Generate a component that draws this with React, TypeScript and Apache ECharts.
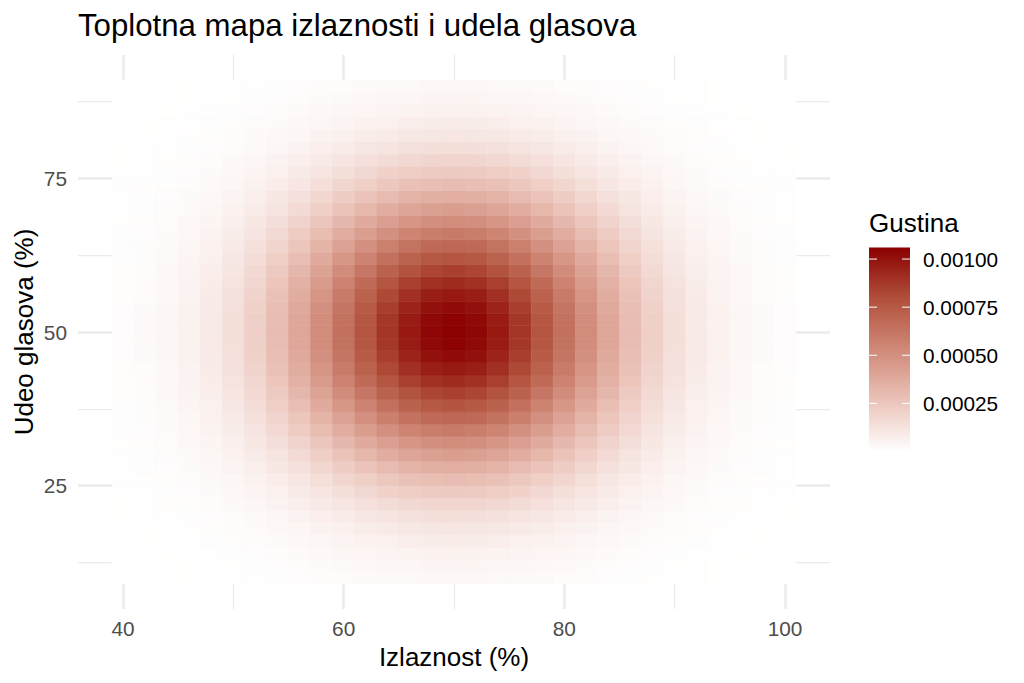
import React, { useEffect, useRef } from "react";
import * as echarts from "echarts";

const titleText = "Toplotna mapa izlaznosti i udela glasova";
const xName = "Izlaznost (%)";
const yName = "Udeo glasova (%)";
const legendName = "Gustina";
const xMajor = [40, 60, 80, 100];
const xMinor = [50, 70, 90];
const yMajor = [25, 50, 75];
const yMinor = [12.5, 37.5, 62.5, 87.5];
const xCells = [40,42,44,46,48,50,52,54,56,58,60,62,64,66,68,70,72,74,76,78,80,82,84,86,88,90,92,94,96,98,100];
const yCells = [10,12,14,16,18,20,22,24,26,28,30,32,34,36,38,40,42,44,46,48,50,52,54,56,58,60,62,64,66,68,70,72,74,76,78,80,82,84,86,88,90];
const legendTicks = [0.001, 0.00075, 0.0005, 0.00025];
const legendLabels = ["0.00100", "0.00075", "0.00050", "0.00025"];
const colorStops = ["#ffffff", "#EBC3B9", "#D08978", "#B1503B", "#8B0000"];
const densityMax = 0.00106;
const unit = 1e-5;
// rows run from y = 10 to y = 90, columns from x = 40 to x = 100; values in units of 0.00001
const density = [
[0,0.1,0.1,0.2,0.3,0.4,0.6,0.9,1.2,1.5,1.9,2.2,2.6,2.8,3,3.1,3,2.8,2.6,2.2,1.9,1.5,1.2,0.9,0.6,0.4,0.3,0.2,0.1,0.1,0],
[0,0.1,0.1,0.2,0.4,0.6,0.8,1.2,1.6,2.1,2.6,3.1,3.5,3.9,4.2,4.2,4.2,3.9,3.5,3.1,2.6,2.1,1.6,1.2,0.8,0.6,0.4,0.2,0.1,0.1,0],
[0.1,0.1,0.2,0.3,0.5,0.8,1.2,1.7,2.2,2.9,3.6,4.3,5,5.5,5.8,5.9,5.8,5.5,5,4.3,3.6,2.9,2.2,1.7,1.2,0.8,0.5,0.3,0.2,0.1,0.1],
[0.1,0.2,0.3,0.5,0.7,1.1,1.6,2.3,3.1,4,5,5.9,6.8,7.5,8,8.2,8,7.5,6.8,5.9,5,4,3.1,2.3,1.6,1.1,0.7,0.5,0.3,0.2,0.1],
[0.1,0.2,0.4,0.6,1,1.5,2.2,3,4.1,5.3,6.6,7.9,9.1,10.1,10.7,10.9,10.7,10.1,9.1,7.9,6.6,5.3,4.1,3,2.2,1.5,1,0.6,0.4,0.2,0.1],
[0.2,0.3,0.5,0.8,1.3,1.9,2.8,4,5.4,7,8.7,10.4,11.9,13.2,14,14.3,14,13.2,11.9,10.4,8.7,7,5.4,4,2.8,1.9,1.3,0.8,0.5,0.3,0.2],
[0.2,0.4,0.6,1,1.6,2.5,3.7,5.2,7,9,11.3,13.5,15.5,17.1,18.2,18.6,18.2,17.1,15.5,13.5,11.3,9,7,5.2,3.7,2.5,1.6,1,0.6,0.4,0.2],
[0.3,0.5,0.8,1.3,2.1,3.2,4.7,6.6,8.9,11.5,14.3,17.2,19.7,21.8,23.2,23.6,23.2,21.8,19.7,17.2,14.3,11.5,8.9,6.6,4.7,3.2,2.1,1.3,0.8,0.5,0.3],
[0.3,0.6,1,1.6,2.6,4,5.8,8.2,11.1,14.3,17.9,21.4,24.6,27.2,28.9,29.5,28.9,27.2,24.6,21.4,17.9,14.3,11.1,8.2,5.8,4,2.6,1.6,1,0.6,0.3],
[0.4,0.7,1.2,2,3.2,4.9,7.2,10.1,13.6,17.6,21.9,26.3,30.2,33.3,35.4,36.1,35.4,33.3,30.2,26.3,21.9,17.6,13.6,10.1,7.2,4.9,3.2,2,1.2,0.7,0.4],
[0.5,0.9,1.5,2.4,3.9,5.9,8.6,12.1,16.4,21.2,26.4,31.6,36.4,40.2,42.7,43.6,42.7,40.2,36.4,31.6,26.4,21.2,16.4,12.1,8.6,5.9,3.9,2.4,1.5,0.9,0.5],
[0.6,1,1.8,2.9,4.6,7,10.2,14.4,19.4,25.1,31.3,37.5,43.1,47.6,50.6,51.6,50.6,47.6,43.1,37.5,31.3,25.1,19.4,14.4,10.2,7,4.6,2.9,1.8,1,0.6],
[0.7,1.2,2,3.3,5.3,8.1,11.9,16.7,22.5,29.2,36.4,43.6,50.1,55.4,58.8,60,58.8,55.4,50.1,43.6,36.4,29.2,22.5,16.7,11.9,8.1,5.3,3.3,2,1.2,0.7],
[0.8,1.4,2.3,3.8,6.1,9.3,13.6,19.1,25.8,33.4,41.6,49.8,57.3,63.3,67.2,68.6,67.2,63.3,57.3,49.8,41.6,33.4,25.8,19.1,13.6,9.3,6.1,3.8,2.3,1.4,0.8],
[0.9,1.5,2.6,4.3,6.8,10.4,15.2,21.4,28.9,37.5,46.7,55.9,64.3,71,75.4,77,75.4,71,64.3,55.9,46.7,37.5,28.9,21.4,15.2,10.4,6.8,4.3,2.6,1.5,0.9],
[1,1.7,2.9,4.7,7.5,11.5,16.8,23.6,31.9,41.3,51.5,61.7,70.9,78.3,83.2,84.9,83.2,78.3,70.9,61.7,51.5,41.3,31.9,23.6,16.8,11.5,7.5,4.7,2.9,1.7,1],
[1,1.8,3.1,5.1,8.1,12.4,18.2,25.6,34.5,44.7,55.7,66.8,76.7,84.8,90.1,91.9,90.1,84.8,76.7,66.8,55.7,44.7,34.5,25.6,18.2,12.4,8.1,5.1,3.1,1.8,1],
[1.1,1.9,3.3,5.4,8.7,13.2,19.4,27.2,36.7,47.6,59.3,71.1,81.7,90.3,95.9,97.8,95.9,90.3,81.7,71.1,59.3,47.6,36.7,27.2,19.4,13.2,8.7,5.4,3.3,1.9,1.1],
[1.2,2,3.5,5.7,9.1,13.8,20.3,28.5,38.4,49.8,62.1,74.3,85.4,94.4,100.3,102.3,100.3,94.4,85.4,74.3,62.1,49.8,38.4,28.5,20.3,13.8,9.1,5.7,3.5,2,1.2],
[1.2,2.1,3.6,5.8,9.3,14.2,20.8,29.2,39.4,51.1,63.7,76.3,87.7,96.9,103,105,103,96.9,87.7,76.3,63.7,51.1,39.4,29.2,20.8,14.2,9.3,5.8,3.6,2.1,1.2],
[1.2,2.1,3.6,5.9,9.4,14.3,21,29.5,39.8,51.6,64.3,77,88.5,97.8,103.9,106,103.9,97.8,88.5,77,64.3,51.6,39.8,29.5,21,14.3,9.4,5.9,3.6,2.1,1.2],
[1.2,2.1,3.6,5.8,9.3,14.2,20.8,29.2,39.4,51.1,63.7,76.3,87.7,96.9,103,105,103,96.9,87.7,76.3,63.7,51.1,39.4,29.2,20.8,14.2,9.3,5.8,3.6,2.1,1.2],
[1.2,2,3.5,5.7,9.1,13.8,20.3,28.5,38.4,49.8,62.1,74.3,85.4,94.4,100.3,102.3,100.3,94.4,85.4,74.3,62.1,49.8,38.4,28.5,20.3,13.8,9.1,5.7,3.5,2,1.2],
[1.1,1.9,3.3,5.4,8.7,13.2,19.4,27.2,36.7,47.6,59.3,71.1,81.7,90.3,95.9,97.8,95.9,90.3,81.7,71.1,59.3,47.6,36.7,27.2,19.4,13.2,8.7,5.4,3.3,1.9,1.1],
[1,1.8,3.1,5.1,8.1,12.4,18.2,25.6,34.5,44.7,55.7,66.8,76.7,84.8,90.1,91.9,90.1,84.8,76.7,66.8,55.7,44.7,34.5,25.6,18.2,12.4,8.1,5.1,3.1,1.8,1],
[1,1.7,2.9,4.7,7.5,11.5,16.8,23.6,31.9,41.3,51.5,61.7,70.9,78.3,83.2,84.9,83.2,78.3,70.9,61.7,51.5,41.3,31.9,23.6,16.8,11.5,7.5,4.7,2.9,1.7,1],
[0.9,1.5,2.6,4.3,6.8,10.4,15.2,21.4,28.9,37.5,46.7,55.9,64.3,71,75.4,77,75.4,71,64.3,55.9,46.7,37.5,28.9,21.4,15.2,10.4,6.8,4.3,2.6,1.5,0.9],
[0.8,1.4,2.3,3.8,6.1,9.3,13.6,19.1,25.8,33.4,41.6,49.8,57.3,63.3,67.2,68.6,67.2,63.3,57.3,49.8,41.6,33.4,25.8,19.1,13.6,9.3,6.1,3.8,2.3,1.4,0.8],
[0.7,1.2,2,3.3,5.3,8.1,11.9,16.7,22.5,29.2,36.4,43.6,50.1,55.4,58.8,60,58.8,55.4,50.1,43.6,36.4,29.2,22.5,16.7,11.9,8.1,5.3,3.3,2,1.2,0.7],
[0.6,1,1.8,2.9,4.6,7,10.2,14.4,19.4,25.1,31.3,37.5,43.1,47.6,50.6,51.6,50.6,47.6,43.1,37.5,31.3,25.1,19.4,14.4,10.2,7,4.6,2.9,1.8,1,0.6],
[0.5,0.9,1.5,2.4,3.9,5.9,8.6,12.1,16.4,21.2,26.4,31.6,36.4,40.2,42.7,43.6,42.7,40.2,36.4,31.6,26.4,21.2,16.4,12.1,8.6,5.9,3.9,2.4,1.5,0.9,0.5],
[0.4,0.7,1.2,2,3.2,4.9,7.2,10.1,13.6,17.6,21.9,26.3,30.2,33.3,35.4,36.1,35.4,33.3,30.2,26.3,21.9,17.6,13.6,10.1,7.2,4.9,3.2,2,1.2,0.7,0.4],
[0.3,0.6,1,1.6,2.6,4,5.8,8.2,11.1,14.3,17.9,21.4,24.6,27.2,28.9,29.5,28.9,27.2,24.6,21.4,17.9,14.3,11.1,8.2,5.8,4,2.6,1.6,1,0.6,0.3],
[0.3,0.5,0.8,1.3,2.1,3.2,4.7,6.6,8.9,11.5,14.3,17.2,19.7,21.8,23.2,23.6,23.2,21.8,19.7,17.2,14.3,11.5,8.9,6.6,4.7,3.2,2.1,1.3,0.8,0.5,0.3],
[0.2,0.4,0.6,1,1.6,2.5,3.7,5.2,7,9,11.3,13.5,15.5,17.1,18.2,18.6,18.2,17.1,15.5,13.5,11.3,9,7,5.2,3.7,2.5,1.6,1,0.6,0.4,0.2],
[0.2,0.3,0.5,0.8,1.3,1.9,2.8,4,5.4,7,8.7,10.4,11.9,13.2,14,14.3,14,13.2,11.9,10.4,8.7,7,5.4,4,2.8,1.9,1.3,0.8,0.5,0.3,0.2],
[0.1,0.2,0.4,0.6,1,1.5,2.2,3,4.1,5.3,6.6,7.9,9.1,10.1,10.7,10.9,10.7,10.1,9.1,7.9,6.6,5.3,4.1,3,2.2,1.5,1,0.6,0.4,0.2,0.1],
[0.1,0.2,0.3,0.5,0.7,1.1,1.6,2.3,3.1,4,5,5.9,6.8,7.5,8,8.2,8,7.5,6.8,5.9,5,4,3.1,2.3,1.6,1.1,0.7,0.5,0.3,0.2,0.1],
[0.1,0.1,0.2,0.3,0.5,0.8,1.2,1.7,2.2,2.9,3.6,4.3,5,5.5,5.8,5.9,5.8,5.5,5,4.3,3.6,2.9,2.2,1.7,1.2,0.8,0.5,0.3,0.2,0.1,0.1],
[0,0.1,0.1,0.2,0.4,0.6,0.8,1.2,1.6,2.1,2.6,3.1,3.5,3.9,4.2,4.2,4.2,3.9,3.5,3.1,2.6,2.1,1.6,1.2,0.8,0.6,0.4,0.2,0.1,0.1,0],
[0,0.1,0.1,0.2,0.3,0.4,0.6,0.9,1.2,1.5,1.9,2.2,2.6,2.8,3,3.1,3,2.8,2.6,2.2,1.9,1.5,1.2,0.9,0.6,0.4,0.3,0.2,0.1,0.1,0],
];

const FONT = "Liberation Sans";
const GRID = "#EBEBEB";

export default function App() {
  const ref = useRef<HTMLDivElement>(null);
  useEffect(() => {
    const chart = echarts.init(ref.current!, undefined, { renderer: "svg" });
    const cells: number[][] = [];
    yCells.forEach((y, r) => xCells.forEach((x, c) => cells.push([x, y, density[r][c] * unit])));

    const barTop = 247.5;
    const barH = 204;
    const barL = 869;
    const barW = 41;
    const yOf = (v: number) => barTop + ((densityMax - v) / densityMax) * barH;
    const gradientStops = colorStops
      .map((color, i) => ({ offset: 1 - i / (colorStops.length - 1), color }))
      .reverse();

    const legendGraphics: any[] = [
      { type: "text", left: barL, top: 210, style: { text: legendName, font: `26px "${FONT}"`, fill: "#000" } },
      {
        type: "rect",
        shape: { x: barL, y: barTop, width: barW, height: barH },
        style: { fill: new echarts.graphic.LinearGradient(0, 0, 0, 1, gradientStops) },
      },
    ];
    legendTicks.forEach((v, i) => {
      const y = yOf(v);
      legendGraphics.push(
        { type: "line", z: 100, shape: { x1: barL, y1: y, x2: barL + 8, y2: y }, style: { stroke: "#fff", lineWidth: 1 } },
        { type: "line", z: 100, shape: { x1: barL + barW - 8, y1: y, x2: barL + barW, y2: y }, style: { stroke: "#fff", lineWidth: 1 } },
        { type: "text", x: 923, y, style: { text: legendLabels[i], font: `20.8px "${FONT}"`, fill: "#000", verticalAlign: "middle" } }
      );
    });

    const baseAxis = {
      type: "value" as const,
      axisLine: { show: false },
      axisTick: { show: false },
    };
    const xLimits = { min: 35.92, max: 104.08 };
    const yLimits = { min: 4.9, max: 95.1 };

    chart.setOption({
      animation: false,
      backgroundColor: "#fff",
      title: {
        text: titleText,
        left: 78,
        top: 10,
        padding: 0,
        textStyle: { fontFamily: FONT, fontSize: 31.2, fontWeight: "normal", color: "#000" },
      },
      grid: { left: 78, right: 194, top: 55, bottom: 74, outerBoundsMode: "none" },
      xAxis: [
        {
          ...baseAxis,
          ...xLimits,
          axisTick: { show: false, customValues: xMajor },
          axisLabel: { customValues: xMajor, color: "#4D4D4D", fontFamily: FONT, fontSize: 20.8, margin: 9, hideOverlap: false },
          splitLine: { show: true, lineStyle: { color: GRID, width: 2.5 } },
          name: xName,
          nameLocation: "middle",
          nameGap: 35,
          nameMoveOverlap: false,
          nameTextStyle: { fontFamily: FONT, fontSize: 26, color: "#000" },
        },
        {
          ...baseAxis,
          ...xLimits,
          position: "bottom",
          axisTick: { show: false, customValues: xMinor },
          axisLabel: { show: false, customValues: xMinor },
          splitLine: { show: true, lineStyle: { color: GRID, width: 1.25 } },
        },
      ],
      yAxis: [
        {
          ...baseAxis,
          ...yLimits,
          axisTick: { show: false, customValues: yMajor },
          axisLabel: { customValues: yMajor, color: "#4D4D4D", fontFamily: FONT, fontSize: 20.8, margin: 11, hideOverlap: false },
          splitLine: { show: true, lineStyle: { color: GRID, width: 2.5 } },
          name: yName,
          nameLocation: "middle",
          nameGap: 41,
          nameMoveOverlap: false,
          nameTextStyle: { fontFamily: FONT, fontSize: 26, color: "#000" },
        },
        {
          ...baseAxis,
          ...yLimits,
          position: "left",
          axisTick: { show: false, customValues: yMinor },
          axisLabel: { show: false, customValues: yMinor },
          splitLine: { show: true, lineStyle: { color: GRID, width: 1.25 } },
        },
      ],
      visualMap: {
        type: "continuous",
        show: false,
        seriesIndex: 0,
        dimension: 2,
        min: 0,
        max: densityMax,
        inRange: { color: colorStops },
      },
      graphic: legendGraphics,
      series: [
        {
          type: "custom",
          xAxisIndex: 0,
          yAxisIndex: 0,
          z: 5,
          silent: true,
          clip: true,
          encode: { x: 0, y: 1 },
          data: cells,
          renderItem: (_params: any, api: any) => {
            const x = api.value(0);
            const y = api.value(1);
            const a = api.coord([x - 1, y + 1]);
            const b = api.coord([x + 1, y - 1]);
            const color = api.visual("color");
            return {
              type: "rect",
              shape: { x: a[0], y: a[1], width: b[0] - a[0], height: b[1] - a[1] },
              style: { fill: color, stroke: color, lineWidth: 0.6 },
            };
          },
        },
      ],
    });
    return () => chart.dispose();
  }, []);
  return <div ref={ref} style={{ position: "fixed", left: 0, top: 0, width: 1024, height: 683 }} />;
}
